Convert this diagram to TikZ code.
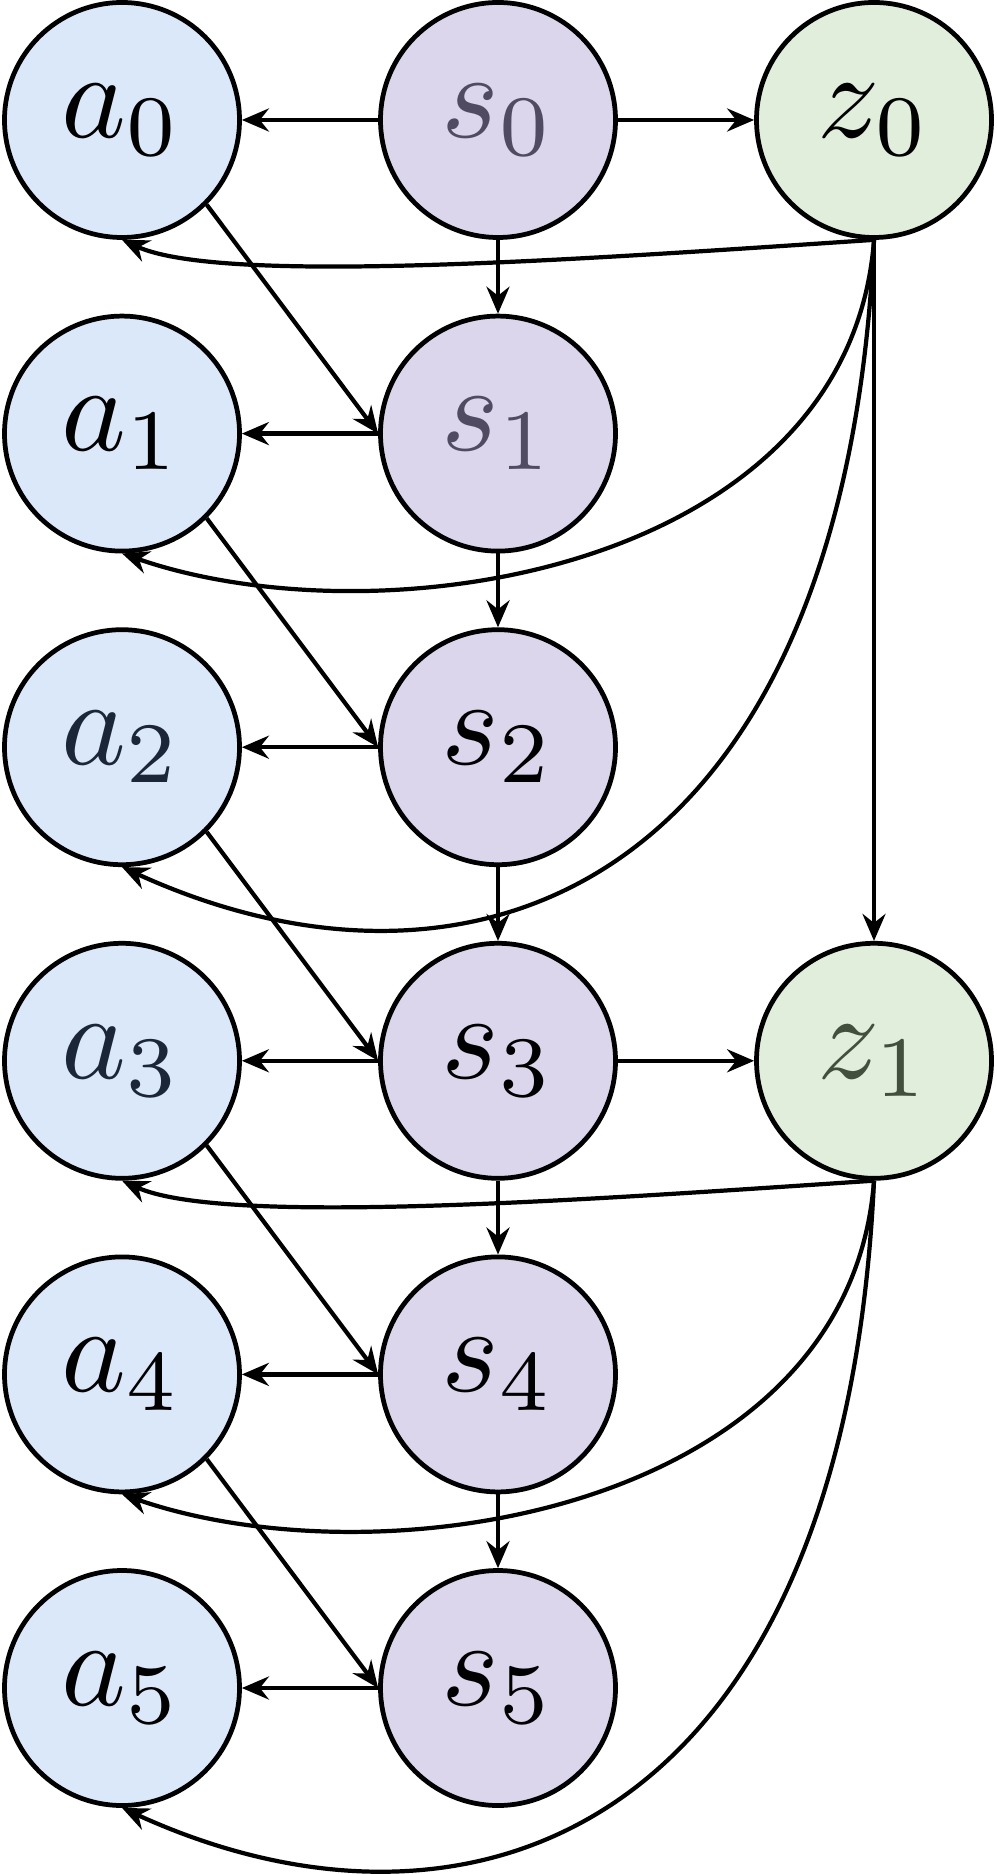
\documentclass[tikz,border=0pt]{standalone}
\usepackage{graphicx}
\usetikzlibrary{arrows.meta}
\definecolor{afill}{HTML}{DBE8FA}
\definecolor{sfill}{HTML}{DBD6EB}
\definecolor{zfill}{HTML}{E1EEDB}
\definecolor{sgray}{HTML}{514A63}
\definecolor{anavy}{HTML}{1B2638}
\definecolor{zgreen}{HTML}{434F3D}
\newcommand{\varlbl}[1]{\scalebox{3.5}{$#1$}}
\tikzset{
  var/.style={circle, draw=black, line width=1.35pt, minimum size=2.35cm, inner sep=0pt},
  anode/.style={var, fill=afill},
  snode/.style={var, fill=sfill},
  znode/.style={var, fill=zfill},
  arr/.style={-{Stealth[length=0.27cm, width=0.23cm, inset=0.09cm]}, line width=1.2pt, black}
}
\begin{document}
\begin{tikzpicture}
\useasboundingbox (0,0) rectangle (9.97,-18.74);
% nodes
\node[anode] (a0) at (1.22,-1.200)  {\varlbl{a_0}};
\node[anode] (a1) at (1.22,-4.336)  {\varlbl{a_1}};
\node[anode] (a2) at (1.22,-7.472)  {\color{anavy}\varlbl{a_2}};
\node[anode] (a3) at (1.22,-10.608) {\color{anavy}\varlbl{a_3}};
\node[anode] (a4) at (1.22,-13.744) {\varlbl{a_4}};
\node[anode] (a5) at (1.22,-16.880) {\varlbl{a_5}};
\node[snode] (s0) at (4.98,-1.200)  {\color{sgray}\varlbl{s_0}};
\node[snode] (s1) at (4.98,-4.336)  {\color{sgray}\varlbl{s_1}};
\node[snode] (s2) at (4.98,-7.472)  {\varlbl{s_2}};
\node[snode] (s3) at (4.98,-10.608) {\varlbl{s_3}};
\node[snode] (s4) at (4.98,-13.744) {\varlbl{s_4}};
\node[snode] (s5) at (4.98,-16.880) {\varlbl{s_5}};
\node[znode] (z0) at (8.74,-1.200)  {\varlbl{z_0}};
\node[znode] (z1) at (8.74,-10.608) {\color{zgreen}\varlbl{z_1}};
% horizontal
\foreach \i in {0,...,5} \draw[arr] (s\i.west) -- (a\i.east);
\draw[arr] (s0.east) -- (z0.west);
\draw[arr] (s3.east) -- (z1.west);
% vertical and diagonal
\foreach \i/\j in {0/1,1/2,2/3,3/4,4/5} {
  \draw[arr] (s\i.south) -- (s\j.north);
  \draw[arr] (a\i.south east) -- (s\j.west);
}
\draw[arr] (z0.south) -- (z1.north);
% curves from z0
\draw[arr] (z0.south) .. controls +(-3,-0.2) and +(1.0,-0.45) .. (a0.south);
\draw[arr] (z0.south) .. controls +(-0.25,-3.3) and +(2.6,-0.9) .. (a1.south);
\draw[arr] (z0.south) .. controls +(-0.3,-6.5) and +(3.5,-1.6) .. (a2.south);
% curves from z1
\draw[arr] (z1.south) .. controls +(-3,-0.2) and +(1.0,-0.45) .. (a3.south);
\draw[arr] (z1.south) .. controls +(-0.25,-3.3) and +(2.6,-0.9) .. (a4.south);
\draw[arr] (z1.south) .. controls +(-0.3,-6.5) and +(3.5,-1.6) .. (a5.south);
\end{tikzpicture}
\end{document}
